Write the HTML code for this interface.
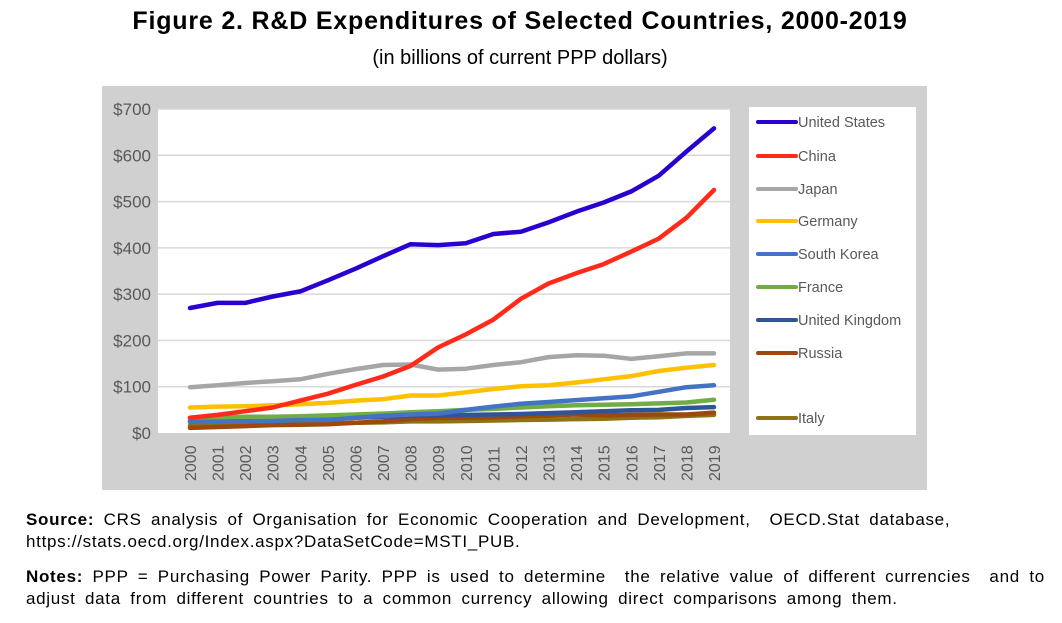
<!DOCTYPE html>
<html><head><meta charset="utf-8"><style>
body{margin:0;width:1062px;height:623px;background:#fff;font-family:"Liberation Sans",sans-serif;position:relative;overflow:hidden}
.t{position:absolute;left:0;width:1040px;text-align:center}
.note{position:absolute;left:26px;font-size:17px;color:#000;line-height:22px;white-space:nowrap;letter-spacing:0.7px;word-spacing:4px}
</style></head><body>
<div class="t" style="top:7px;font-size:25px;font-weight:bold;letter-spacing:0.8px">Figure 2. R&amp;D Expenditures of Selected Countries, 2000-2019</div>
<div class="t" style="top:47px;font-size:20px">(in billions of current PPP dollars)</div>
<svg id="chart" width="1062" height="623" style="position:absolute;left:0;top:0">
<rect x="102" y="86" width="825" height="404" fill="#d0d0d0"/>
<rect x="158" y="109" width="572" height="324" fill="#fff"/>
<rect x="749" y="107" width="167" height="328" fill="#fff"/>
<g id="grid"></g><g id="lines"></g><g id="legend"></g>
</svg>
<div class="note" style="top:509px"><b>Source:</b> CRS analysis of Organisation for Economic Cooperation and Development,&nbsp; OECD.Stat database,<br>https://stats.oecd.org/Index.aspx?DataSetCode=MSTI_PUB.</div>
<div class="note" style="top:566px"><b>Notes:</b> PPP = Purchasing Power Parity. PPP is used to determine&nbsp; the relative value of different currencies&nbsp; and to<br>adjust data from different countries to a common currency allowing direct comparisons among them.</div>
<script>
const years=[2000,2001,2002,2003,2004,2005,2006,2007,2008,2009,2010,2011,2012,2013,2014,2015,2016,2017,2018,2019];
const yTicks=[0,100,200,300,400,500,600,700];
const seriesNames=["United States","China","Japan","Germany","South Korea","France","United Kingdom","Russia","Italy"];
const us=[270,281,281,295,306,330,355,382,408,406,410,430,435,455,478,498,522,556,608,658];
const china=[33,39,47,55,70,85,104,122,145,185,213,245,290,323,345,365,392,420,465,525];
const japan=[99,103,108,112,116,128,138,147,148,137,139,147,153,164,168,167,160,166,172,172];
const germany=[55,57,58,60,62,65,70,73,81,81,88,95,101,103,109,116,123,134,141,147];
const korea=[24,24,25,26,28,28,33,37,40,42,50,57,63,67,71,75,79,89,99,103];
const france=[33,34,35,35,36,38,40,42,45,47,50,52,55,58,60,61,62,64,66,72];
const uk=[26,27,28,29,30,30,33,35,37,38,39,40,41,43,45,47,49,50,54,56];
const russia=[11,13,15,17,18,19,22,25,30,33,33,34,36,38,40,38,39,40,40,44];
const italy=[16,17,18,19,20,20,22,23,25,25,26,27,28,29,30,31,33,34,37,39];
const colors=["#2a00d0","#ff2a1a","#a6a6a6","#ffc000","#4472c4","#70ad47","#2f5597","#9e480e","#8c7316"];
const allSeries=[us,china,japan,germany,korea,france,uk,russia,italy];
const NS="http://www.w3.org/2000/svg";
const x=i=>190+i*(714-190)/(years.length-1);
const y=v=>433-v*(433-109)/700;
function mk(t,a,p){const e=document.createElementNS(NS,t);for(const k in a)e.setAttribute(k,a[k]);p.appendChild(e);return e;}
const grid=document.getElementById('grid');
yTicks.forEach(v=>{
  if(v>0){const l=mk('line',{x1:158,x2:730,y1:y(v),y2:y(v),stroke:'#d9d9d9','stroke-width':1.5},grid);
  
  }
  const t=mk('text',{x:151,y:y(v)+6,'text-anchor':'end','font-size':17,fill:'#595959','font-family':'Liberation Sans,sans-serif'},grid);
  t.textContent='$'+v;
  
  
});
years.forEach((yr,i)=>{
  const t=mk('text',{transform:`translate(${x(i)+6},481) rotate(-90)`,'font-size':16,fill:'#595959','font-family':'Liberation Sans,sans-serif'},grid);
  t.textContent=yr;
  
  
});
const lines=document.getElementById('lines');
for(let s=allSeries.length-1;s>=0;s--){
  const d=allSeries[s].map((v,i)=>(i?'L':'M')+x(i).toFixed(1)+','+y(v).toFixed(1)).join('');
  const p=mk('path',{d:d,fill:'none',stroke:colors[s],'stroke-width':4.5,'stroke-linejoin':'round','stroke-linecap':'round'},lines);
  
  
}
const legend=document.getElementById('legend');
const ly=[122,156,189,221,254,287,320,353,418];
seriesNames.forEach((n,s)=>{
  const g=mk('g',{},legend);
  
  
  mk('line',{x1:758,x2:796,y1:ly[s],y2:ly[s],stroke:colors[s],'stroke-width':4,'stroke-linecap':'round'},g);
  const t=mk('text',{x:798,y:ly[s]+5,'font-size':14.5,fill:'#595959','font-family':'Liberation Sans,sans-serif'},g);
  t.textContent=n;
});
</script>
</body></html>
